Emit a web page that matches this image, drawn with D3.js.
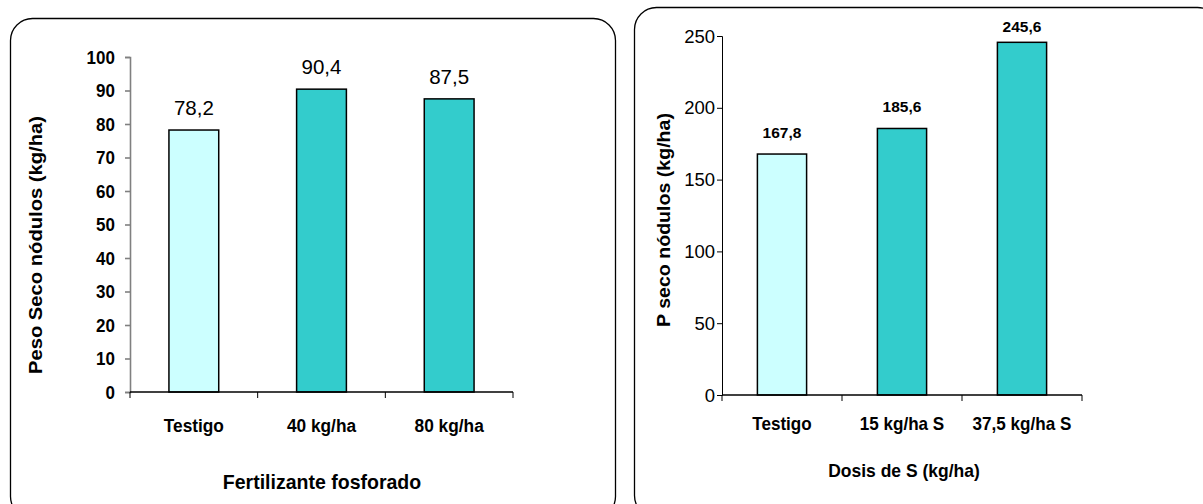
<!DOCTYPE html>
<html><head><meta charset="utf-8">
<script src="https://cdn.jsdelivr.net/npm/d3@7"></script>
<style>
html,body{margin:0;padding:0;background:#fff;}
svg{display:block;font-family:"Liberation Sans",Arial,sans-serif;}
</style></head>
<body>
<svg id="c" width="1203" height="504"></svg>
<script>
// Data
const catsP = ["Testigo", "40 kg/ha", "80 kg/ha"];
const valsP = [78.2, 90.4, 87.5];
const labelsP = ["78,2", "90,4", "87,5"];
const ticksP = [0,10,20,30,40,50,60,70,80,90,100];

const catsS = ["Testigo", "15 kg/ha S", "37,5 kg/ha S"];
const valsS = [167.8, 185.6, 245.6];
const labelsS = ["167,8", "185,6", "245,6"];
const ticksS = [0,50,100,150,200,250];

const colors = ["#CCFFFF", "#33CCCC", "#33CCCC"];

const svg = d3.select("#c");

// panels
svg.append("rect").attr("x",10.5).attr("y",18.5).attr("width",605).attr("height",500)
  .attr("rx",22).attr("ry",22).attr("fill","none").attr("stroke","#000").attr("stroke-width",1.3);
svg.append("rect").attr("x",634.5).attr("y",7.5).attr("width",585).attr("height",510)
  .attr("rx",22).attr("ry",22).attr("fill","none").attr("stroke","#000").attr("stroke-width",1.3);

// text helper with horizontal squeeze
function txt(g, x, y, s, size, weight, k, anchor, dy){
  return g.append("text")
    .attr("transform",`translate(${x},${y}) scale(${k},1)`)
    .attr("text-anchor",anchor||"middle").attr("dy",dy||0)
    .attr("font-size",size).attr("font-weight",weight).attr("fill","#000").text(s);
}

function chart(o){
  const g = svg.append("g");
  const x = d3.scaleBand().domain(o.cats).range([o.x0,o.x1]).padding(0);
  const y = d3.scaleLinear().domain([0,o.ymax]).range([o.y0,o.y1]);
  // bars
  const bw = x.bandwidth()*o.barFrac;
  g.selectAll("rect.bar").data(o.vals).enter().append("rect")
    .attr("x",(d,i)=>x(o.cats[i])+x.bandwidth()/2-bw/2)
    .attr("y",d=>y(d)).attr("width",bw).attr("height",d=>y(0)-y(d))
    .attr("fill",(d,i)=>colors[i]).attr("stroke","#000").attr("stroke-width",1.5);
  // y axis
  const ya = g.append("g").attr("transform",`translate(${o.x0},0)`)
    .call(d3.axisLeft(y).tickValues(o.ticks).tickSize(5).tickFormat(""));
  ya.select(".domain").attr("stroke",o.yAxisColor).attr("stroke-width",o.yAxisW);
  ya.selectAll(".tick line").attr("stroke",o.yAxisColor).attr("stroke-width",o.yAxisW);
  o.ticks.forEach(t=>{
    txt(g, o.x0-o.tickPad, y(t), String(t), o.ytFont, o.ytWeight, o.ytK, "end", "0.36em");
  });
  // x axis
  g.append("line").attr("x1",o.x0).attr("x2",o.x1).attr("y1",y(0)).attr("y2",y(0))
    .attr("stroke","#000").attr("stroke-width",1.3);
  const bounds = o.cats.map(c=>x(c)).concat([o.x1]);
  g.selectAll("line.xt").data(bounds).enter().append("line")
    .attr("x1",d=>d).attr("x2",d=>d).attr("y1",y(0)).attr("y2",y(0)+6)
    .attr("stroke","#000").attr("stroke-width",1);
  o.cats.forEach(c=>{
    txt(g, x(c)+x.bandwidth()/2, o.xlBase, c, o.xlFont, "bold", o.xlK);
  });
  // value labels
  o.vals.forEach((v,i)=>{
    txt(g, x(o.cats[i])+x.bandwidth()/2, Math.max(y(v)-o.vGap,o.vMin), o.labels[i], o.vFont, o.vWeight, o.vK);
  });
  // titles
  txt(g, o.xtX, o.xtY, o.xTitle, o.xtFont, "bold", o.xtK);
  g.append("text").attr("transform",`translate(${o.ytX},${o.ytY}) rotate(-90)`)
    .attr("text-anchor","middle").attr("font-weight","bold").attr("font-size",o.yttFont)
    .attr("textLength",o.ytLen).attr("lengthAdjust","spacingAndGlyphs").text(o.yTitle);
}

chart({cats:catsP, vals:valsP, labels:labelsP, ticks:ticksP, ymax:100,
  x0:130, x1:513, y0:392, y1:57, barFrac:0.39,
  yAxisColor:"#808080", yAxisW:1.6, tickPad:15, ytFont:18.5, ytWeight:"bold", ytK:0.92,
  xlBase:432, xlFont:18.6, xlK:0.93, vGap:15, vMin:0, vFont:20.5, vWeight:"normal", vK:1,
  xTitle:"Fertilizante fosforado", xtX:322, xtY:489, xtFont:21, xtK:0.93,
  yTitle:"Peso Seco nódulos (kg/ha)", ytX:42, ytY:245, yttFont:18.5, ytLen:258});

chart({cats:catsS, vals:valsS, labels:labelsS, ticks:ticksS, ymax:250,
  x0:722, x1:1082, y0:395, y1:36, barFrac:0.41,
  yAxisColor:"#000", yAxisW:1, tickPad:7, ytFont:18.5, ytWeight:"normal", ytK:1,
  xlBase:430, xlFont:18, xlK:0.95, vGap:16, vMin:32, vFont:15.5, vWeight:"bold", vK:1,
  xTitle:"Dosis de S (kg/ha)", xtX:904, xtY:477, xtFont:18.6, xtK:0.94,
  yTitle:"P seco nódulos (kg/ha)", ytX:670, ytY:220, yttFont:18, ytLen:214});
</script>
</body></html>
